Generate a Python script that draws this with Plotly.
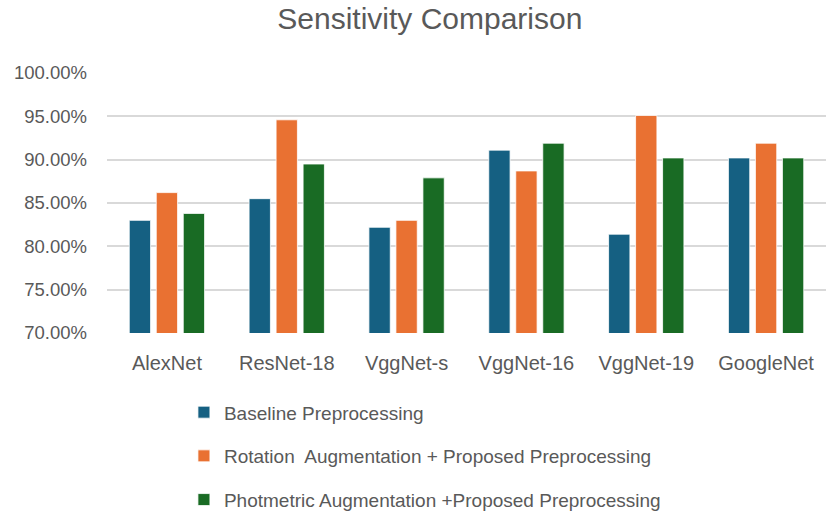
import plotly.graph_objects as go

# Sensitivity (%) for each network under three preprocessing pipelines
models = ["AlexNet", "ResNet-18", "VggNet-s", "VggNet-16", "VggNet-19", "GoogleNet"]
baseline = [83.0, 85.5, 82.2, 91.1, 81.4, 90.2]
rotation = [86.2, 94.6, 83.0, 88.7, 95.1, 91.9]
photometric = [83.8, 89.5, 87.9, 91.9, 90.2, 90.2]

series_names = [
    "Baseline Preprocessing",
    "Rotation  Augmentation + Proposed Preprocessing",
    "Photmetric Augmentation +Proposed Preprocessing",
]
series_values = [baseline, rotation, photometric]
series_colors = ["#156082", "#E97132", "#196B24"]

fig = go.Figure()
for i, (name, vals, col) in enumerate(zip(series_names, series_values, series_colors)):
    fig.add_trace(go.Bar(
        x=models, y=vals, name=name,
        marker=dict(color=col, line=dict(color="white", width=0.8)),
        legendgroup=f"g{i}",
        hoverinfo="x+y+name",
    ))

fig.update_layout(
    width=826, height=513,
    margin=dict(l=107, r=0, t=73, b=180, autoexpand=False),
    paper_bgcolor="white", plot_bgcolor="white",
    barmode="group", bargap=0.324, bargroupgap=0.21,
    font=dict(family="Liberation Sans, Arial, sans-serif", color="#595959", size=18),
    title=dict(
        text="Sensitivity Comparison",
        font=dict(family="Liberation Sans Narrow, Liberation Sans, sans-serif", size=30, color="#595959"),
        x=0.449, xanchor="center", xref="paper",
        y=0.984, yanchor="top", yref="container",
    ),
    xaxis=dict(showgrid=False, showline=False, ticks="", ticklabelstandoff=16,
               automargin=False, tickfont=dict(size=20, color="#595959")),
    yaxis=dict(
        range=[70, 100], dtick=5, tickformat=".2f", ticksuffix="%",
        showgrid=True, gridcolor="#D9D9D9", gridwidth=1.5,
        zeroline=False, showline=False, ticks="", ticklabelstandoff=19,
        automargin=False, tickfont=dict(size=18.5, color="#595959"),
    ),
    showlegend=True,
    legend=dict(
        orientation="v", x=0.107, xanchor="left", y=-0.232, yanchor="top",
        font=dict(size=19, color="#595959"), tracegroupgap=16,
        bgcolor="rgba(0,0,0,0)",
    ),
)

fig.write_html("out.html")
